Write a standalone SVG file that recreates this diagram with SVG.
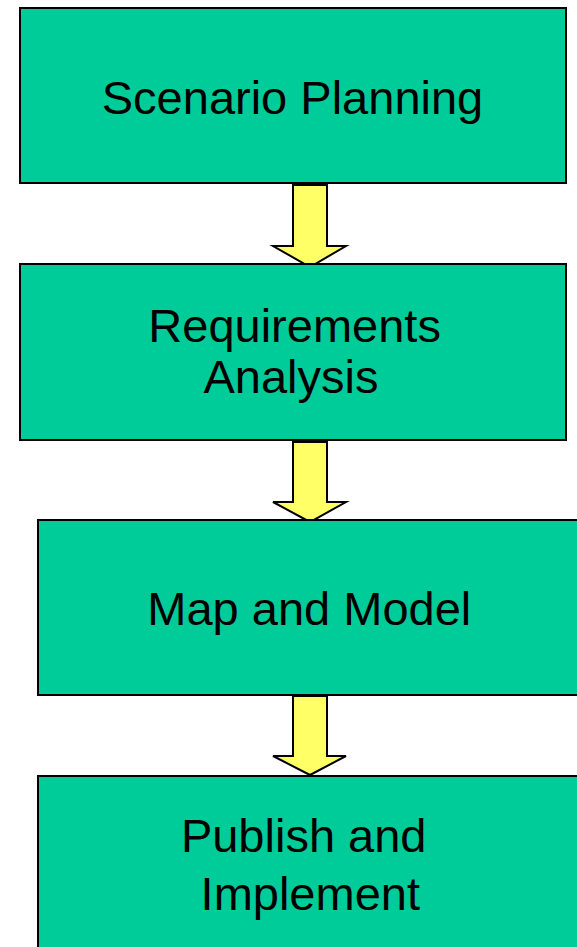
<svg xmlns="http://www.w3.org/2000/svg" width="577" height="947" viewBox="0 0 577 947">
<style>
.box{fill:#00CC99;stroke:#000;stroke-width:2}
.arr{fill:#FFFF66;stroke:#000;stroke-width:2;stroke-linejoin:miter}
.t{font-family:"Liberation Sans",Arial,sans-serif;font-size:47px;fill:#000;text-anchor:middle}
</style>
<rect width="577" height="947" fill="#fff"/>
<g id="connectors">
<path class="arr" d="M293,185 H327 V246 H346 L310,267 L273,246 H293 Z"/>
<path class="arr" d="M293,442 H327 V502 H346 L310,522 L273,502 H293 Z"/>
<path class="arr" d="M293,696 H327 V756 H346 L310,775 L273,756 H293 Z"/>
</g>
<g id="node1">
<rect class="box" x="20" y="8" width="546" height="175"/>
<text class="t" x="292.5" y="114">Scenario Planning</text>
</g>
<g id="node2">
<rect class="box" x="20" y="264" width="546" height="176"/>
<text class="t" x="294.6" y="341.5">Requirements</text>
<text class="t" x="291" y="393.3">Analysis</text>
</g>
<g id="node3">
<rect class="box" x="38" y="520" width="560" height="175"/>
<text class="t" x="309.3" y="625">Map and Model</text>
</g>
<g id="node4">
<rect class="box" x="38" y="776" width="560" height="200"/>
<text class="t" x="303.7" y="852.3">Publish and</text>
<text class="t" x="310.3" y="910">Implement</text>
</g>
</svg>
